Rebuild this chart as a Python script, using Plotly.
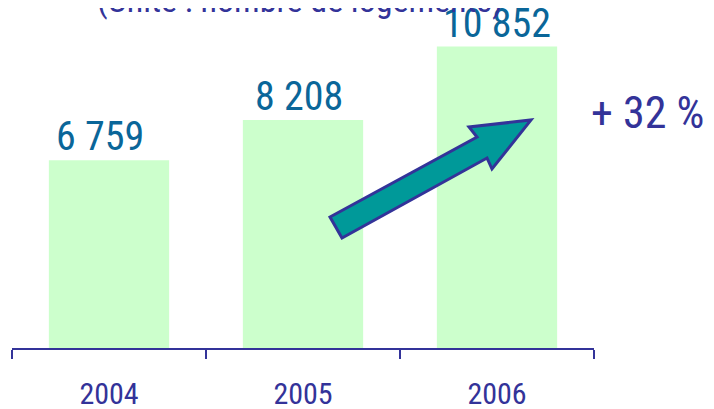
import plotly.graph_objects as go

# data
years = ["2004", "2005", "2006"]
logements = [6759, 8208, 10852]
labels = ["6 759", "8 208", "10 852"]
title_txt = "(Unité : nombre de logements)"
growth_txt = "+ 32 %"

# small horizontal nudges of the value labels, px
label_dx = [-9, -4, 0]

# arrow outline, in screen pixels of the 714x409 shot (decoration only)
arrow_px = [(330, 217), (477, 137), (469, 127), (531, 120),
            (492, 169), (487, 158), (342, 238)]

W, H = 714, 409
OFF = 8  # page body margin
L, R, T, B = 4, 128, 12, 69
pw, ph = W - L - R, H - T - B

def to_paper(sx, sy):
    return (sx - OFF - L) / pw, (H - B - (sy - OFF)) / ph

pts = [to_paper(*p) for p in arrow_px]
path = "M " + " L ".join(f"{x:.4f},{y:.4f}" for x, y in pts) + " Z"

font = "Roboto Condensed, Liberation Sans, sans-serif"

fig = go.Figure(go.Bar(
    x=years, y=logements,
    marker=dict(color="#ccffcc", line=dict(width=0)),
    width=0.62,
))

# value labels (x given as category index)
for i, (v, lab) in enumerate(zip(logements, labels)):
    fig.add_annotation(x=i, y=v, text=lab, xanchor="center", yanchor="bottom",
                       xshift=label_dx[i], yshift=-2, showarrow=False,
                       font=dict(family=font, size=40, color="#0a6699"))

fig.add_shape(type="path", path=path, xref="paper", yref="paper",
              fillcolor="#009999", line=dict(color="#333399", width=3))

gx, gy = to_paper(648, 113)
fig.add_annotation(text=growth_txt, xref="paper", yref="paper", x=gx, y=gy,
                   xanchor="center", yanchor="middle", showarrow=False,
                   font=dict(family=font, size=44, color="#333399"))
tx, ty = to_paper(300, 22)
fig.add_annotation(text=title_txt, xref="paper", yref="paper", x=tx, y=ty,
                   xanchor="center", yanchor="bottom", showarrow=False,
                   font=dict(family=font, size=34, color="#333399"))

fig.update_layout(
    width=W, height=H, margin=dict(l=L, r=R, t=T, b=B),
    plot_bgcolor="white", paper_bgcolor="white", showlegend=False,
)
fig.update_xaxes(type="category", categoryorder="array", categoryarray=years,
                 range=[-0.5, len(years) - 0.5], automargin=False, tickangle=0,
                 showline=True, linecolor="#333399", linewidth=1.5,
                 ticks="outside", tickson="boundaries", ticklen=9,
                 tickcolor="#333399", tickwidth=1.5, ticklabelstandoff=18,
                 tickfont=dict(family=font, size=30, color="#333399"),
                 showgrid=False)
fig.update_yaxes(visible=False, automargin=False, range=[0, ph * 36])

fig.write_html("out.html")
